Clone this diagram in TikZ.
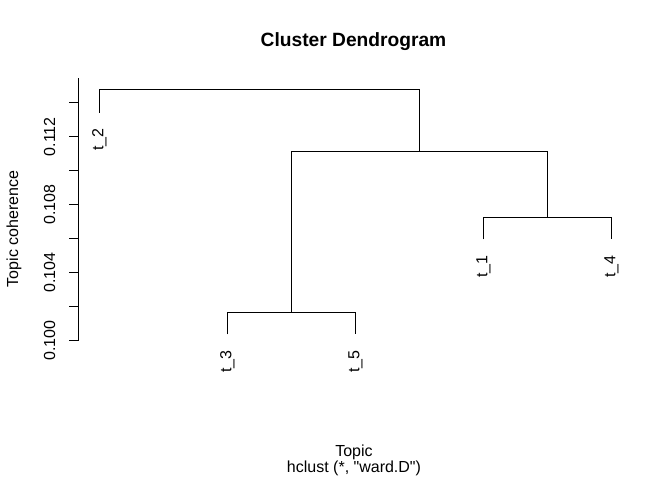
\documentclass[tikz,border=0pt]{standalone}
\usepackage{fontspec}
\setmainfont{Liberation Sans}
\begin{document}
\begin{tikzpicture}[x=1pt,y=-1pt,
  branch/.style={line width=1.1pt, line join=miter},
  axisline/.style={line width=1.1pt},
  txt/.style={inner sep=0pt, font=\fontsize{16}{19}\selectfont},
  leaflabel/.style={txt, rotate=90, anchor=east},
  ticklabel/.style={txt, rotate=90, anchor=base},
]
\useasboundingbox (0,0) rectangle (672,480);

% title and axis titles
\node[inner sep=0pt, anchor=base, font=\fontsize{19.2}{23}\selectfont\bfseries] (title) at (353.5,46) {Cluster Dendrogram};
\node[txt, anchor=base] (xlab) at (354,456.5) {Topic};
\node[txt, anchor=base] (sub) at (354,472.5) {hclust (*, \textquotedbl ward.D\textquotedbl)};
\node[txt, rotate=90, anchor=base] (ylab) at (18,229) {Topic coherence};

% y axis with ticks every 0.002
\coordinate (atop) at (78.5,78.3);
\coordinate (abot) at (78.5,340.5);
\draw[axisline] (atop) -- (abot);
\foreach \k in {0,...,7} {
  \coordinate (tk\k) at (78.5,340.5-\k*33.96);
  \coordinate (te\k) at (69,340.5-\k*33.96);
  \draw[axisline] (tk\k) -- (te\k);
}
\node[ticklabel] (v100) at (55,340.5) {0.100};
\node[ticklabel] (v104) at (55,340.5-2*33.96) {0.104};
\node[ticklabel] (v108) at (55,340.5-4*33.96) {0.108};
\node[ticklabel] (v112) at (55,340.5-6*33.96) {0.112};

% leaves
\coordinate (l2) at (99.4,112.7);
\coordinate (l3) at (227.4,334.3);
\coordinate (l5) at (355.4,334.3);
\coordinate (l1) at (483.4,239.4);
\coordinate (l4) at (611.4,239.4);

% merge points
\coordinate (m35) at (291.4,312.4);
\coordinate (m14) at (547.4,217.2);
\coordinate (m1435) at (419.4,151.2);
\coordinate (root) at (259.4,89.7);

% branches
\draw[branch] (l3) |- (m35) -| (l5);
\draw[branch] (l1) |- (m14) -| (l4);
\draw[branch] (m35) |- (m1435) -| (m14);
\draw[branch] (l2) |- (root) -| (m1435);

% leaf labels
\node[leaflabel] (t2) at ([yshift=-15.8pt]l2) {t\_2};
\node[leaflabel] (t3) at ([yshift=-15.8pt]l3) {t\_3};
\node[leaflabel] (t5) at ([yshift=-15.8pt]l5) {t\_5};
\node[leaflabel] (t1) at ([yshift=-15.8pt]l1) {t\_1};
\node[leaflabel] (t4) at ([yshift=-15.8pt]l4) {t\_4};
\end{tikzpicture}
\end{document}
